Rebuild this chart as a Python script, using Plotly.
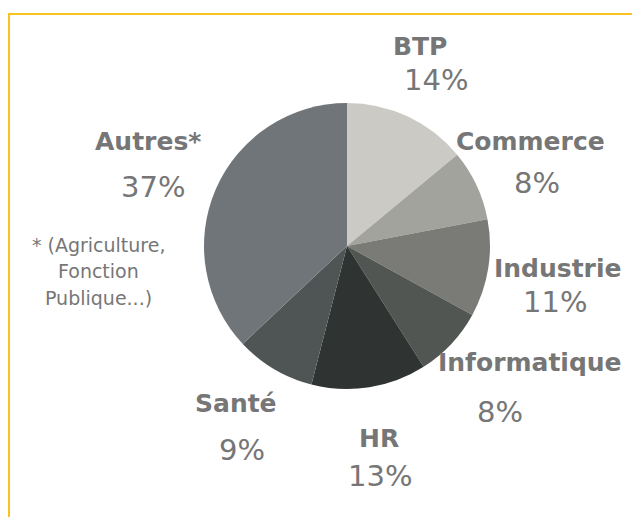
import plotly.graph_objects as go

W, H = 640, 518
OFF = 8  # page body margin offset

categories = ["BTP", "Commerce", "Industrie", "Informatique", "HR", "Santé", "Autres*"]
values = [14, 8, 11, 8, 13, 9, 37]
colors = ["#CCCAC5", "#A3A39E", "#7A7B76", "#525653", "#2F3331", "#4F5554", "#70757A"]
pct_labels = ["14%", "8%", "11%", "8%", "13%", "9%", "37%"]
footnote = ["* (Agriculture,", "Fonction", "Publique...)"]

# label positions as seen on screen (pixels): (name_x, name_y, pct_x, pct_y)
label_pos = [
    (420, 47, 436, 80),
    (530, 141, 537, 183),
    (557, 268, 555, 302),
    (530, 362, 500, 412),
    (379, 438, 380, 476),
    (236, 403, 242, 450),
    (148, 141, 153, 187),
]
foot_pos = [(98, 245), (98, 271), (98, 298)]

def px(x):
    return (x - OFF) / W

def py(y):
    return 1 - (y - OFF) / H

fig = go.Figure(go.Pie(
    labels=categories,
    values=values,
    sort=False,
    direction="clockwise",
    rotation=0,
    marker=dict(colors=colors, line=dict(width=0)),
    textinfo="none",
    hoverinfo="label+percent",
    showlegend=False,
    domain=dict(x=[px(204), px(490)], y=[py(389), py(103)]),
))

gray = "#767676"
ann = []
for (nx, ny, qx, qy), name, pct in zip(label_pos, categories, pct_labels):
    ann.append(dict(x=px(nx), y=py(ny), xref="paper", yref="paper", text="<b>%s</b>" % name,
                    showarrow=False, xanchor="center", yanchor="middle",
                    font=dict(family="DejaVu Sans", size=25, color=gray)))
    ann.append(dict(x=px(qx), y=py(qy), xref="paper", yref="paper", text=pct,
                    showarrow=False, xanchor="center", yanchor="middle",
                    font=dict(family="DejaVu Sans", size=29, color=gray)))
for (fx, fy), t in zip(foot_pos, footnote):
    ann.append(dict(x=px(fx), y=py(fy), xref="paper", yref="paper", text=t,
                    showarrow=False, xanchor="center", yanchor="middle",
                    font=dict(family="DejaVu Sans", size=19, color=gray)))

gold = "#F7C31C"
shapes = [
    dict(type="line", xref="paper", yref="paper", x0=px(8), x1=px(650), y0=py(14), y1=py(14),
         line=dict(color=gold, width=2)),
    dict(type="line", xref="paper", yref="paper", x0=px(9), x1=px(9), y0=py(13), y1=py(517),
         line=dict(color=gold, width=2)),
]

fig.update_layout(
    width=W, height=H,
    margin=dict(l=0, r=0, t=0, b=0),
    paper_bgcolor="white", plot_bgcolor="white",
    annotations=ann, shapes=shapes,
)

fig.write_html("out.html")
